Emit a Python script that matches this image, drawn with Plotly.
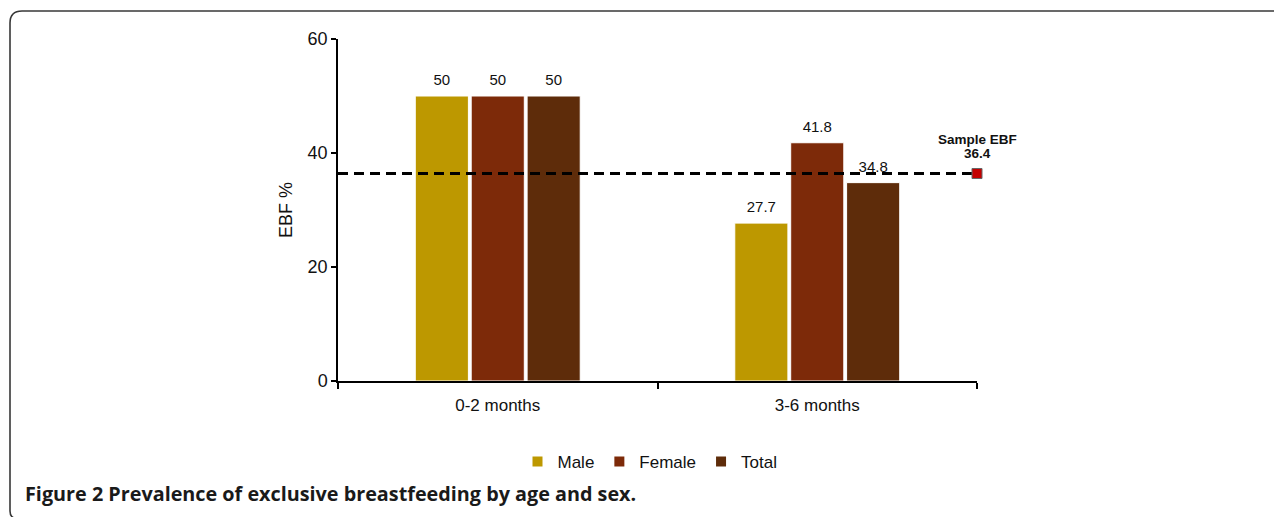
import plotly.graph_objects as go

categories = ["0-2 months", "3-6 months"]
male = [50, 27.7]
female = [50, 41.8]
total = [50, 34.8]
sample_ebf = 36.4
y_ticks = [0, 20, 40, 60]

W, H = 1282, 517
OFF = 8  # page body margin
L, T = 338 - OFF, 39 - OFF
R = W - (977 - OFF)
B = H - (381 - OFF)
pw, ph = W - L - R, H - T - B

def px(x):
    return (x - OFF - L) / pw

def py(y):
    return (H - B - (y - OFF)) / ph

font_main = "Liberation Sans, Arial, sans-serif"

fig = go.Figure()
colors = {"Male": "#BD9800", "Female": "#7D2A09", "Total": "#5E2C0A"}
series = [("Male", male), ("Female", female), ("Total", total)]
for name, vals in series:
    fig.add_trace(go.Bar(
        x=categories, y=vals, name=name,
        offsetgroup=name, alignmentgroup="g",
        marker=dict(color=colors[name], line=dict(color="white", width=1)),
        hoverinfo="x+y+name",
    ))
for name, vals in series:
    fig.add_trace(go.Scatter(
        x=categories, y=vals, mode="text+markers",
        offsetgroup=name, alignmentgroup="g",
        marker=dict(size=10, opacity=0),
        text=[f"{v:g}" for v in vals], textposition="top center",
        textfont=dict(size=15, color="#111111", family=font_main),
        showlegend=False, hoverinfo="skip", cliponaxis=False,
    ))

# sample line + marker on overlay axis
fig.add_trace(go.Scatter(
    x=[-0.5, 1.5], y=[sample_ebf, sample_ebf], xaxis="x2", mode="lines",
    offsetgroup="ref", alignmentgroup="ref",
    line=dict(color="black", width=3, dash="10px,6px"), showlegend=False,
    hoverinfo="skip", cliponaxis=False,
))
fig.add_trace(go.Scatter(
    x=[1.5], y=[sample_ebf], xaxis="x2", mode="markers",
    offsetgroup="ref", alignmentgroup="ref",
    marker=dict(symbol="square", size=10, color="#C40000",
                line=dict(color="#666666", width=1)),
    showlegend=False, cliponaxis=False, hoverinfo="y",
))

fig.update_layout(
    width=W, height=H,
    margin=dict(l=L, r=R, t=T, b=B, autoexpand=False),
    paper_bgcolor="white", plot_bgcolor="white",
    font=dict(family=font_main, color="#111111"),
    barmode="group", bargap=0.475, bargroupgap=0.05,
    scattermode="group", scattergap=0.475,
    showlegend=True,
    legend=dict(orientation="h", x=px(650), xanchor="center", y=py(462), yanchor="middle",
                font=dict(size=17, family=font_main), itemsizing="constant",
                traceorder="normal", itemwidth=30),
    xaxis=dict(type="category", tickson="boundaries", ticks="outside", ticklen=6,
               tickwidth=1.5, tickcolor="black", ticklabelstandoff=8,
               showline=True, linecolor="black", linewidth=2, showgrid=False,
               tickfont=dict(size=17, family=font_main), range=[-0.5, 1.5]),
    xaxis2=dict(overlaying="x", range=[-0.5, 1.5], visible=False, fixedrange=True),
    yaxis=dict(range=[0, 60], tickvals=y_ticks, ticks="outside", ticklen=5,
               tickwidth=1.5, tickcolor="black",
               showline=True, linecolor="black", linewidth=1.5, showgrid=False,
               zeroline=False, tickfont=dict(size=18, family=font_main),
               title=dict(text="EBF %", font=dict(size=18, family=font_main), standoff=10)),
)

fig.add_annotation(x=1.5, y=sample_ebf, xref="x2", yref="y",
                   text="<b>36.4</b>", showarrow=False,
                   yanchor="bottom", yshift=11, font=dict(size=13.5, family=font_main, color="#111111"))
fig.add_annotation(x=1.5, y=sample_ebf, xref="x2", yref="y",
                   text="<b>Sample EBF</b>", showarrow=False,
                   yanchor="bottom", yshift=25, font=dict(size=13.5, family=font_main, color="#111111"))

fig.add_annotation(x=px(23), y=py(493), xref="paper", yref="paper", xanchor="left", yanchor="middle",
                   text="<b>Figure 2</b> <b>Prevalence of exclusive breastfeeding by age and sex.</b>",
                   showarrow=False, font=dict(size=19.8, family="Open Sans, Noto Sans, sans-serif", color="#1a1a1a"))

# rounded frame
x0, x1 = px(10), px(1300)
yt, yb = py(11), py(519)
r_x, r_y = 12 / pw, 12 / ph
rb_x, rb_y = 8 / pw, 8 / ph
path = (f"M {x0 + rb_x},{yb} Q {x0},{yb} {x0},{yb + rb_y} "
        f"L {x0},{yt - r_y} Q {x0},{yt} {x0 + r_x},{yt} L {x1},{yt}")
fig.add_shape(type="path", path=path, xref="paper", yref="paper",
              line=dict(color="#383838", width=1.6), layer="above")

fig.write_html("out.html")
